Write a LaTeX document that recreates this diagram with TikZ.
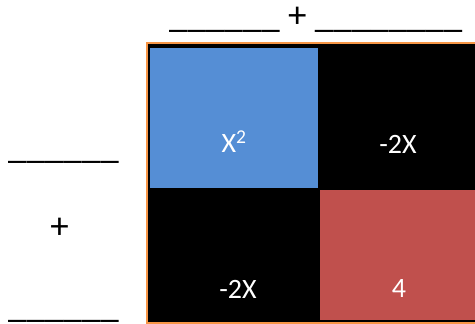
\documentclass[tikz,border=0pt]{standalone}
\usepackage{fontspec}
\setmainfont{Carlito}
\definecolor{frameorange}{HTML}{F79646}
\definecolor{cellblue}{HTML}{558ED5}
\definecolor{cellred}{HTML}{C0504D}
\tikzset{
  celltext/.style={text=white, font=\fontsize{28}{30}\selectfont, inner sep=0pt, anchor=base},
  blanktext/.style={text=black, font=\fontsize{37}{40}\selectfont, inner sep=0pt, anchor=base west},
}
\begin{document}
\begin{tikzpicture}[x=1pt,y=-1pt]
  \useasboundingbox (0,0) rectangle (475,324);
  \clip (0,0) rectangle (475,324);
  % outer square: black with orange frame
  \draw[frameorange, line width=2pt, fill=black] (147,43) rectangle (480,322.5);
  % x^2 cell and constant cell
  \fill[cellblue] (150,47.5) rectangle (318,188);
  \fill[cellred] (320,190) rectangle (480,320);
  % cell labels
  \node[celltext] (xsq) at (234,152.3) {X\textsuperscript{2}};
  \node[celltext] (tr) at (398,153) {-2X};
  \node[celltext] (bl) at (238,298) {-2X};
  \node[celltext] (four) at (399,297) {4};
  % blanks to fill in
  \node[blanktext] (top) at (169,27.5) {\_\_\_\_\_\_ + \_\_\_\_\_\_\_\_};
  \node[blanktext] (lefta) at (8,158.5) {\_\_\_\_\_\_};
  \node[blanktext, anchor=center] (plus) at (59.5,228) {+};
  \node[blanktext] (leftb) at (8,317) {\_\_\_\_\_\_};
\end{tikzpicture}
\end{document}
